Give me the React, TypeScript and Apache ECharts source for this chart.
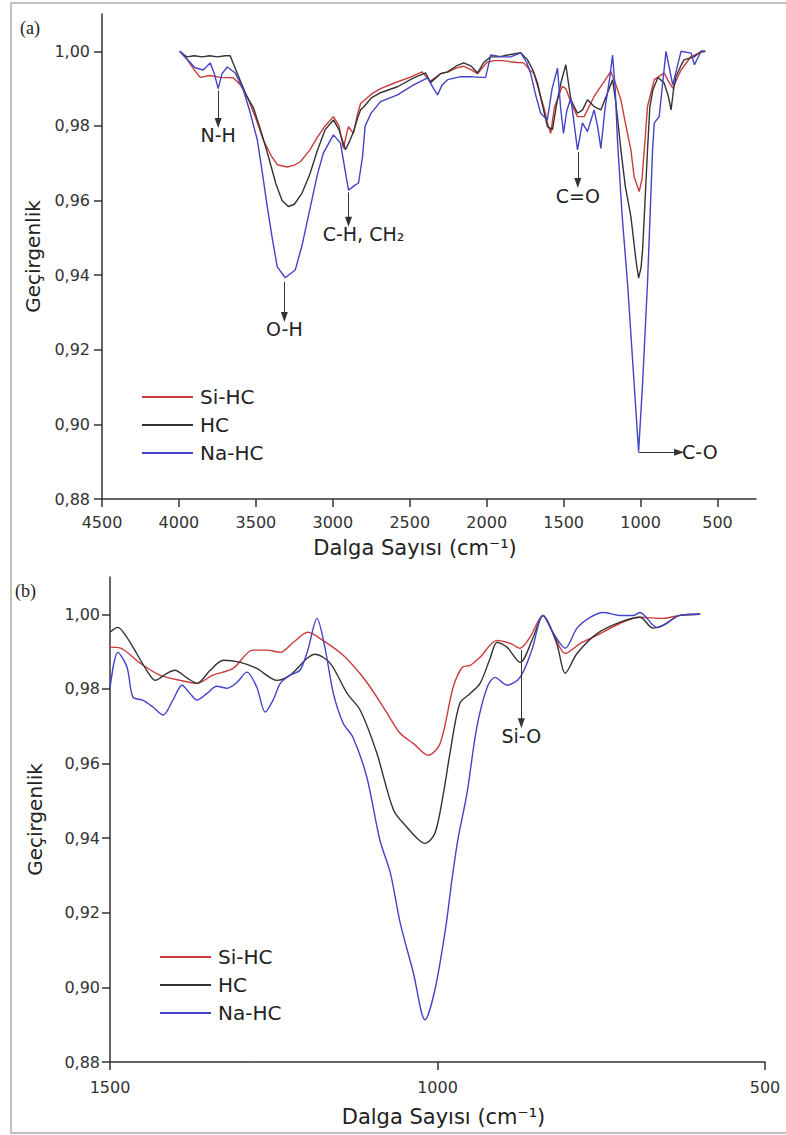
import React, { useEffect, useRef } from "react";
import * as echarts from "echarts";

const FONT = "DejaVu Sans";
const SERIES_NAMES = ["Si-HC", "HC", "Na-HC"];
const COLORS = ["#cc3a3a", "#333333", "#4343c8"];

const xTicksA = [4500, 4000, 3500, 3000, 2500, 2000, 1500, 1000, 500];
const xTicksB = [1500, 1000, 500];
const yTicks = [0.88, 0.9, 0.92, 0.94, 0.96, 0.98, 1.0];

// Panel (a): full FTIR spectra  [wavenumber, transmittance]
const siHcA: [number, number][] = [
  [3995, 1.0], [3950, 0.998], [3900, 0.995], [3862, 0.993], [3800, 0.9935], [3732, 0.993], [3647, 0.9929],
  [3600, 0.991], [3556, 0.9878], [3500, 0.982], [3452, 0.9763], [3400, 0.972], [3361, 0.9696], [3296, 0.969],
  [3250, 0.9695], [3211, 0.9704], [3150, 0.9735], [3100, 0.977], [3050, 0.98], [2996, 0.9825], [2960, 0.98],
  [2931, 0.974], [2910, 0.978], [2898, 0.9798], [2866, 0.978], [2840, 0.983], [2820, 0.986], [2750, 0.9885],
  [2690, 0.99], [2600, 0.9915], [2500, 0.993], [2420, 0.9945], [2390, 0.993], [2365, 0.992], [2300, 0.994],
  [2250, 0.9945], [2200, 0.9955], [2150, 0.996], [2100, 0.995], [2060, 0.994], [2000, 0.997], [1950, 0.9975],
  [1900, 0.9975], [1844, 0.9972], [1800, 0.997], [1759, 0.9969], [1720, 0.995], [1694, 0.9942], [1650, 0.988],
  [1629, 0.985], [1600, 0.98], [1584, 0.978], [1560, 0.985], [1509, 0.9906], [1486, 0.99], [1450, 0.986],
  [1410, 0.9825], [1367, 0.9825], [1302, 0.9879], [1258, 0.9906], [1193, 0.9946], [1160, 0.991], [1128, 0.987],
  [1100, 0.981], [1063, 0.9736], [1042, 0.9664], [1009, 0.9624], [990, 0.966], [976, 0.9736], [955, 0.9852],
  [911, 0.9924], [846, 0.9942], [820, 0.992], [791, 0.9901], [760, 0.993], [737, 0.995], [672, 0.9986],
  [620, 0.9995], [580, 1.0],
];
const hcA: [number, number][] = [
  [3995, 1.0], [3950, 0.9985], [3900, 0.9988], [3850, 0.9985], [3800, 0.9988], [3750, 0.9985], [3700, 0.9988],
  [3667, 0.9988], [3640, 0.996], [3600, 0.992], [3560, 0.988], [3517, 0.985], [3470, 0.979], [3420, 0.972],
  [3370, 0.9645], [3330, 0.96], [3289, 0.9584], [3250, 0.959], [3200, 0.962], [3150, 0.967], [3100, 0.9735],
  [3050, 0.979], [2996, 0.9816], [2960, 0.979], [2918, 0.9736], [2890, 0.976], [2866, 0.9784], [2840, 0.982],
  [2820, 0.9843], [2801, 0.985], [2750, 0.9875], [2690, 0.9889], [2580, 0.9905], [2475, 0.9929], [2397, 0.9942],
  [2365, 0.9916], [2300, 0.994], [2254, 0.9945], [2200, 0.996], [2150, 0.9969], [2100, 0.996], [2059, 0.9942],
  [2020, 0.997], [1974, 0.9985], [1920, 0.9985], [1863, 0.999], [1779, 0.9996], [1735, 0.9977], [1700, 0.995],
  [1670, 0.9915], [1640, 0.986], [1605, 0.9798], [1573, 0.979], [1545, 0.986], [1518, 0.9915], [1486, 0.9964],
  [1453, 0.987], [1410, 0.9834], [1377, 0.9843], [1345, 0.987], [1302, 0.9852], [1258, 0.9843], [1215, 0.9888],
  [1182, 0.9924], [1160, 0.986], [1128, 0.9736], [1100, 0.964], [1063, 0.9557], [1030, 0.944], [1013, 0.9392],
  [997, 0.942], [987, 0.9468], [976, 0.9557], [955, 0.9736], [940, 0.985], [920, 0.9897], [887, 0.993],
  [848, 0.9916], [820, 0.988], [802, 0.9843], [785, 0.99], [770, 0.9932], [740, 0.996], [718, 0.9977],
  [653, 0.9985], [607, 1.0], [580, 1.0],
];
const naHcA: [number, number][] = [
  [3995, 1.0], [3950, 0.998], [3895, 0.9956], [3842, 0.995], [3797, 0.9969], [3770, 0.994], [3745, 0.99],
  [3720, 0.994], [3686, 0.9958], [3660, 0.995], [3634, 0.9942], [3582, 0.9897], [3540, 0.984], [3491, 0.9763],
  [3460, 0.968], [3426, 0.9583], [3390, 0.949], [3361, 0.9422], [3309, 0.9393], [3244, 0.9414], [3200, 0.948],
  [3146, 0.9583], [3100, 0.967], [3061, 0.9728], [2996, 0.9776], [2950, 0.9754], [2920, 0.968], [2898, 0.9628],
  [2860, 0.964], [2833, 0.9647], [2807, 0.9717], [2790, 0.98], [2750, 0.9835], [2690, 0.9865], [2580, 0.9883],
  [2475, 0.991], [2384, 0.9929], [2345, 0.99], [2319, 0.9883], [2290, 0.991], [2254, 0.9924], [2170, 0.9932],
  [2104, 0.9932], [2040, 0.993], [2007, 0.993], [1974, 0.999], [1900, 0.9985], [1844, 0.9985], [1779, 0.9996],
  [1740, 0.997], [1714, 0.994], [1680, 0.988], [1649, 0.9834], [1606, 0.9816], [1575, 0.99], [1540, 0.9955],
  [1520, 0.985], [1501, 0.978], [1480, 0.984], [1453, 0.9875], [1430, 0.98], [1410, 0.9736], [1378, 0.9808],
  [1345, 0.9785], [1302, 0.9843], [1280, 0.98], [1258, 0.974], [1230, 0.985], [1200, 0.993], [1182, 0.999],
  [1165, 0.99], [1150, 0.976], [1120, 0.956], [1085, 0.9379], [1042, 0.911], [1013, 0.8927], [987, 0.911],
  [955, 0.9379], [922, 0.9736], [911, 0.9808], [879, 0.9825], [835, 1.0], [791, 0.991], [737, 1.0],
  [672, 0.9995], [650, 0.9964], [607, 1.0], [580, 1.0],
];

// Panel (b): 1500-500 cm-1 zoom
const siHcB: [number, number][] = [
  [1500, 0.9912], [1485, 0.991], [1454, 0.9869], [1424, 0.9837], [1393, 0.9823], [1367, 0.9815], [1343, 0.9837],
  [1312, 0.9855], [1282, 0.9904], [1260, 0.9904], [1240, 0.9898], [1220, 0.9925], [1198, 0.9952], [1175, 0.993],
  [1144, 0.989], [1108, 0.9818], [1077, 0.9735], [1057, 0.9681], [1037, 0.9654], [1014, 0.9622], [996, 0.9654],
  [976, 0.9805], [962, 0.9858], [950, 0.9863], [935, 0.9885], [909, 0.993], [889, 0.9922], [874, 0.9909],
  [859, 0.9938], [839, 0.9997], [823, 0.9949], [805, 0.9895], [782, 0.9922], [756, 0.9944], [721, 0.9976],
  [691, 0.9992], [656, 0.9989], [630, 0.9997], [599, 1.0],
];
const hcB: [number, number][] = [
  [1500, 0.9952], [1488, 0.9965], [1475, 0.994], [1465, 0.9912], [1444, 0.985], [1431, 0.9823], [1413, 0.9842],
  [1401, 0.985], [1382, 0.9829], [1367, 0.9815], [1347, 0.985], [1327, 0.9877], [1301, 0.9871], [1276, 0.9855],
  [1245, 0.9823], [1225, 0.9837], [1199, 0.9882], [1187, 0.9893], [1164, 0.9869], [1138, 0.9788], [1118, 0.9743],
  [1093, 0.963], [1067, 0.9475], [1047, 0.943], [1030, 0.9398], [1019, 0.9386], [1004, 0.9413], [991, 0.952],
  [981, 0.9627], [966, 0.9761], [950, 0.9788], [935, 0.9815], [920, 0.988], [909, 0.9925], [894, 0.9912],
  [874, 0.9871], [854, 0.9938], [839, 0.9997], [818, 0.9922], [805, 0.9842], [787, 0.9895], [756, 0.9949],
  [721, 0.9979], [691, 0.9992], [671, 0.9963], [656, 0.997], [630, 0.9997], [599, 1.0],
];
const naHcB: [number, number][] = [
  [1500, 0.9802], [1488, 0.9898], [1474, 0.9858], [1465, 0.9778], [1450, 0.977], [1434, 0.9751], [1419, 0.973],
  [1404, 0.977], [1390, 0.981], [1378, 0.9788], [1367, 0.977], [1352, 0.9788], [1337, 0.9807], [1321, 0.9802],
  [1306, 0.9818], [1291, 0.9845], [1276, 0.9805], [1263, 0.9738], [1251, 0.977], [1240, 0.9815], [1225, 0.9837],
  [1210, 0.985], [1198, 0.9904], [1184, 0.9989], [1172, 0.9912], [1159, 0.9788], [1144, 0.9708], [1129, 0.967],
  [1108, 0.9564], [1088, 0.9395], [1072, 0.9307], [1057, 0.9173], [1037, 0.904], [1019, 0.8913], [1004, 0.8993],
  [988, 0.9154], [978, 0.9288], [969, 0.9395], [955, 0.952], [940, 0.9697], [924, 0.9805], [912, 0.9831],
  [894, 0.981], [874, 0.9831], [856, 0.9904], [839, 0.9997], [823, 0.9949], [805, 0.9909], [787, 0.9963],
  [767, 0.9992], [747, 1.0005], [721, 0.9997], [701, 0.9997], [691, 1.0005], [665, 0.9965], [650, 0.9976],
  [630, 0.9997], [599, 1.0],
];

// Band annotations: label, arrow start, arrow end (data coordinates)
const annotationsA = [
  { label: "N-H", from: [3745, 0.9895], to: [3745, 0.9808], pad: 0 },
  { label: "O-H", from: [3315, 0.9382], to: [3315, 0.9288], pad: 0 },
  { label: "C-H, CH₂", from: [2898, 0.9622], to: [2898, 0.9543], pad: 30 },
  { label: "C=O", from: [1408, 0.973], to: [1408, 0.9647], pad: 0 },
  { label: "C-O", from: [1013, 0.8925], to: [750, 0.8925], pad: 0 },
];
const annotationsB = [
  { label: "Si-O", from: [872, 0.9904], to: [872, 0.9708], pad: 0 },
];

const fmtY = (v: number) => v.toFixed(2).replace(".", ",");
const fmtX = (v: number) => String(Math.round(v));

function makeMarkLine(items: typeof annotationsA) {
  return {
    silent: true,
    symbol: ["none", "triangle"],
    symbolSize: [7, 10],
    lineStyle: { color: "#333", width: 1, type: "solid" },
    label: { show: true, position: "end", distance: 3, fontSize: 19, color: "#222", fontFamily: FONT },
    emphasis: { disabled: true },
    data: items.map((a) => [
      {
        coord: a.from,
        label: { formatter: a.label, padding: [0, 0, 0, a.pad] },
      },
      { coord: a.to },
    ]),
  };
}

function makeXAxis(grid: number, min: number, max: number, ticks: number[], margin: number, nameGap: number, namePad: number[]) {
  return {
    gridIndex: grid,
    type: "value",
    inverse: true,
    min,
    max,
    axisLine: { show: true, onZero: false, lineStyle: { color: "#333", width: 1.5 } },
    axisTick: { show: true, length: 8, customValues: ticks, lineStyle: { color: "#333", width: 1.5 } },
    axisLabel: { customValues: ticks, margin, fontSize: 16, color: "#333", fontFamily: FONT, formatter: fmtX },
    splitLine: { show: false },
    name: "Dalga Sayısı (cm⁻¹)",
    nameLocation: "middle",
    nameGap,
    nameTextStyle: { fontSize: 21, color: "#222", fontFamily: FONT, padding: namePad },
  };
}

function makeYAxis(grid: number, margin: number, nameGap: number) {
  return {
    gridIndex: grid,
    type: "value",
    min: 0.88,
    max: 1.01,
    axisLine: { show: true, lineStyle: { color: "#333", width: 1.5 } },
    axisTick: { show: true, length: 8, customValues: yTicks, lineStyle: { color: "#333", width: 1.5 } },
    axisLabel: { customValues: yTicks, margin, fontSize: 16, color: "#333", fontFamily: FONT, formatter: fmtY },
    splitLine: { show: false },
    name: "Geçirgenlik",
    nameLocation: "middle",
    nameGap,
    nameTextStyle: { fontSize: 20, color: "#222", fontFamily: FONT },
  };
}

function makeSeries(grid: number, datasets: [number, number][][], smooth: number | boolean, marks: typeof annotationsA) {
  return datasets.map((d, i) => ({
    type: "line",
    name: SERIES_NAMES[i],
    xAxisIndex: grid,
    yAxisIndex: grid,
    data: d,
    symbol: "none",
    smooth,
    lineStyle: { color: COLORS[i], width: 1.4 },
    itemStyle: { color: COLORS[i] },
    emphasis: { disabled: true },
    markLine: i === 2 ? makeMarkLine(marks) : undefined,
  }));
}

function makeLegend(left: number, top: number) {
  return {
    data: SERIES_NAMES.map((n) => ({ name: n, icon: "rect" })),
    orient: "vertical",
    left,
    top,
    padding: 0,
    itemWidth: 51,
    itemHeight: 2,
    itemGap: 8,
    selectedMode: false,
    textStyle: { fontSize: 20, color: "#222", fontFamily: FONT, padding: [0, 0, 0, 2] },
  };
}

export default function App() {
  const ref = useRef<HTMLDivElement>(null);
  useEffect(() => {
    document.body.style.margin = "0";
    if (!ref.current) return;
    const chart = echarts.init(ref.current, undefined, { renderer: "svg" });
    const option = {
      animation: false,
      backgroundColor: "#ffffff",
      textStyle: { fontFamily: FONT },
      grid: [
        { left: 102, top: 14, width: 654, height: 485 },
        { left: 110, top: 577, width: 655, height: 485 },
      ],
      xAxis: [
        makeXAxis(0, 250, 4500, xTicksA, 15, 38, [0, 28, 0, 0]),
        makeXAxis(1, 500, 1500, xTicksB, 17, 44, [0, 0, 0, 12]),
      ],
      yAxis: [makeYAxis(0, 12, 59), makeYAxis(1, 10, 65)],
      legend: [makeLegend(142, 387), makeLegend(160, 947)],
      series: [
        ...makeSeries(0, [siHcA, hcA, naHcA], false, annotationsA),
        ...makeSeries(1, [siHcB, hcB, naHcB], 0.3, annotationsB),
      ],
      graphic: [
        {
          type: "rect",
          shape: { x: 11, y: 3, width: 800, height: 1130 },
          style: { fill: "none", stroke: "#aaaaaa", lineWidth: 1.5 },
          silent: true,
        },
        {
          type: "text",
          left: 20,
          top: 19,
          style: { text: "(a)", font: '18px "Liberation Serif"', fill: "#222" },
        },
        {
          type: "text",
          left: 15,
          top: 582,
          style: { text: "(b)", font: '18px "Liberation Serif"', fill: "#222" },
        },
      ],
    };
    chart.setOption(option as any);
    return () => chart.dispose();
  }, []);
  return <div ref={ref} style={{ width: 786, height: 1135 }} />;
}
